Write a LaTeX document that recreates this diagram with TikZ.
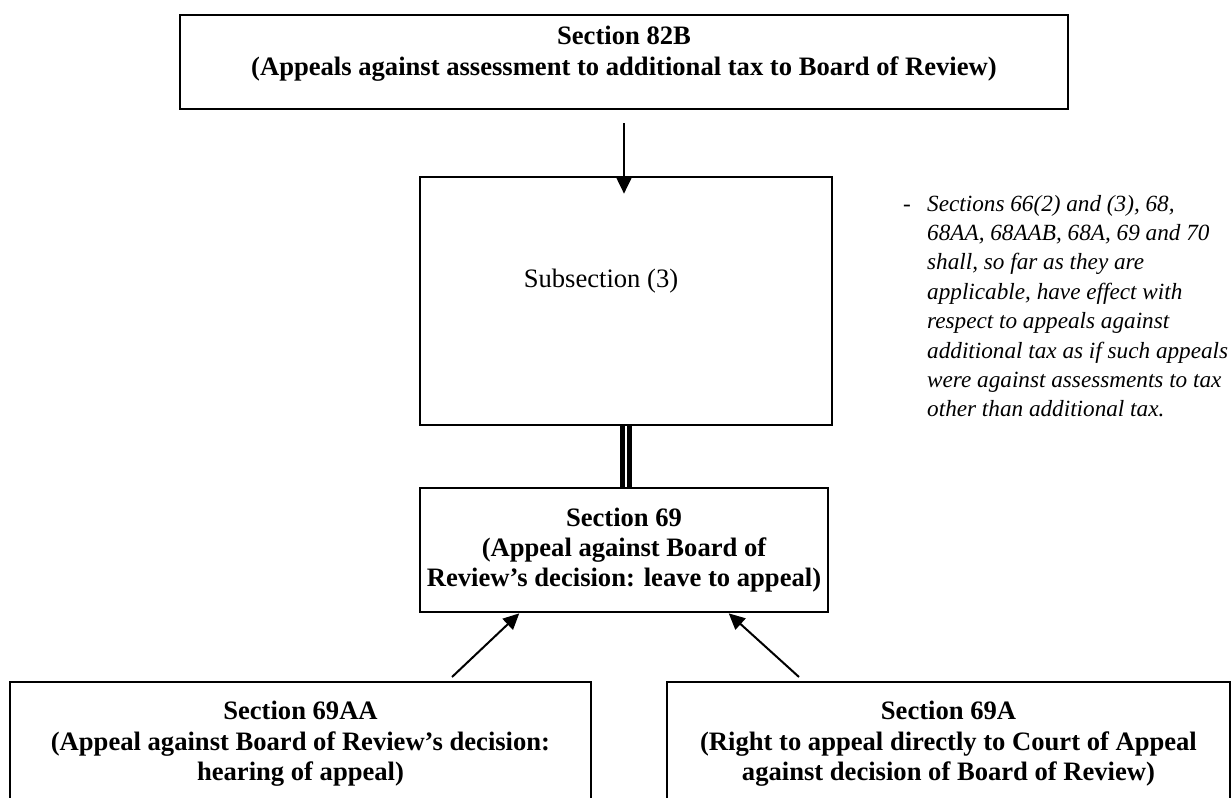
\documentclass[tikz,border=0pt]{standalone}
\usepackage{fontspec}
\setmainfont{Liberation Serif}
\usetikzlibrary{arrows.meta,calc}
\begin{document}
\begin{tikzpicture}[x=1pt,y=-1pt,
  box/.style={draw, line width=2.7pt, inner sep=0pt, align=center,
    font=\bfseries\fontsize{26.6}{30.4}\selectfont},
  plain/.style={inner sep=0pt, font=\fontsize{26.6}{30.4}\selectfont},
  arr/.style={line width=2pt, -{Triangle[length=16pt,width=15pt]}},
  dbl/.style={line width=4.5pt, double, double distance=2.5pt},
]
\useasboundingbox (0,0) rectangle (1232,798);
\clip (0,0) rectangle (1232,798);
\fill[white] (0,0) rectangle (1232,798);

\node[box, minimum width=888pt, minimum height=94pt] (top) at (624,62)
  {Section 82B\\(Appeals against assessment to additional tax to Board of Review)\\[-8pt]\mbox{}};

\node[draw, line width=2.7pt, minimum width=412pt, minimum height=248pt] (sub) at (626,301) {};
\node[plain] (subtxt) at (601,281) {Subsection (3)};

\node[inner sep=0pt, anchor=base west] (note) at (903,211)
  {\parbox[t]{325pt}{\fontsize{23.2}{29.4}\selectfont\itshape
   \hangindent=24pt\hangafter=1\noindent\makebox[24pt][l]{\upshape -}Sections 66(2) and (3), 68,\\
   68AA, 68AAB, 68A, 69 and 70\\
   shall, so far as they are\\
   applicable, have effect with\\
   respect to appeals against\\
   additional tax as if such appeals\\
   were against assessments to tax\\
   other than additional tax.}};

\node[box, minimum width=408pt, minimum height=124pt] (s69) at (624,550)
  {Section 69\\(Appeal against Board of\\Review’s decision: leave to appeal)};

\node[box, minimum width=581pt, minimum height=124pt] (s69aa) at (300.5,744)
  {Section 69AA\\(Appeal against Board of Review’s decision:\\hearing of appeal)};

\node[box, minimum width=563pt, minimum height=124pt] (s69a) at (948.5,744)
  {Section 69A\\(Right to appeal directly to Court of Appeal\\against decision of Board of Review)};

\draw[arr, shorten <=13pt, shorten >=-18pt] (top.south) -- (top.south |- sub.north);
\draw[dbl] (sub.south) -- (sub.south |- s69.north);

\coordinate (t1) at (452,677);
\coordinate (t2) at (799,677);
\draw[arr] (t1) -- ($(s69.south west)!0.245!(s69.south east)$);
\draw[arr] (t2) -- ($(s69.south west)!0.755!(s69.south east)$);
\end{tikzpicture}
\end{document}
